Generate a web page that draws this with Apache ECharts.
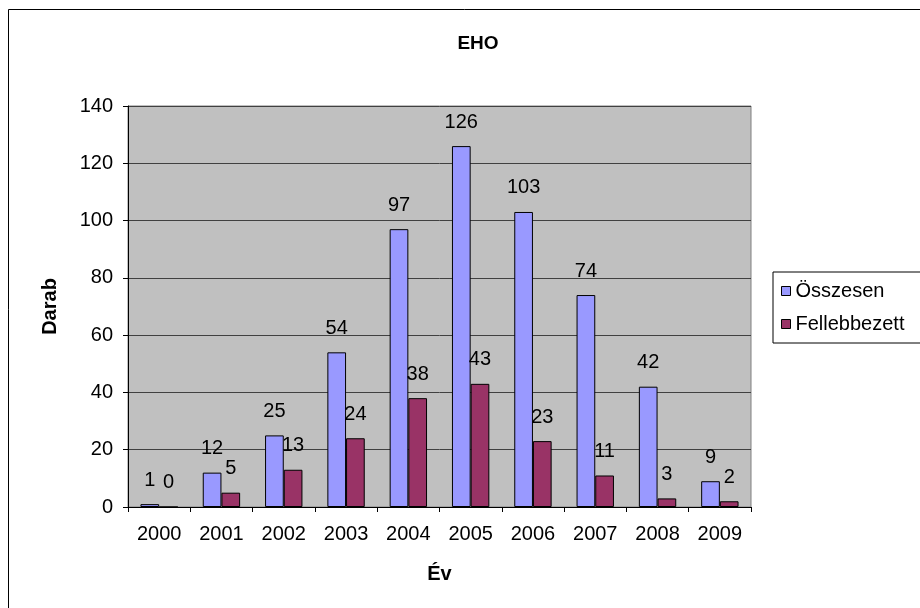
<!DOCTYPE html>
<html>
<head>
<meta charset="utf-8">
<script src="https://cdn.jsdelivr.net/npm/echarts@6/dist/echarts.min.js"></script>
<style>html,body{margin:0;padding:0;background:#fff}#c{width:920px;height:608px}</style>
</head>
<body>
<div id="c"></div>
<script>
var categories = ['2000','2001','2002','2003','2004','2005','2006','2007','2008','2009'];
var osszesen = [1,12,25,54,97,126,103,74,42,9];
var fellebbezett = [0,5,13,24,38,43,23,11,3,2];
var seriesNames = ['Összesen','Fellebbezett'];
var FONT = "'Liberation Sans', Arial, sans-serif";
var FS = 20;

var chart = echarts.init(document.getElementById('c'), null, {renderer:'canvas'});
var labelCfg = {show:true, position:'top', distance:14, fontSize:FS, color:'#000', fontFamily:FONT};
chart.setOption({
  animation:false,
  backgroundColor:'#fff',
  textStyle:{fontFamily:FONT},
  title:{text:'EHO', left:473, top:29, textAlign:'center',
    textStyle:{fontSize:19, fontWeight:'bold', color:'#000', fontFamily:FONT}},
  graphic:[{type:'rect', shape:{x:8.5,y:9.5,width:1000,height:1000},
    style:{fill:null, stroke:'#000', lineWidth:1}, silent:true, z:-1}],
  legend:{orient:'vertical', left:773, top:272, backgroundColor:'#fff',
    borderColor:'#000', borderWidth:1, padding:[9,30,9,8],
    itemWidth:9, itemHeight:9, itemGap:13, icon:'rect',
    itemStyle:{borderColor:'#000', borderWidth:1},
    textStyle:{fontSize:FS, color:'#000', fontFamily:FONT},
    data:seriesNames},
  grid:{left:128, right:169, top:106, bottom:101, show:true,
    backgroundColor:'#c0c0c0', borderColor:'#808080', borderWidth:1},
  xAxis:{type:'category', data:categories,
    name:'Év', nameLocation:'middle', nameGap:57,
    nameTextStyle:{fontSize:FS, fontWeight:'bold', color:'#000', fontFamily:FONT},
    axisLine:{lineStyle:{color:'#000', width:1}},
    axisTick:{show:true, length:5, lineStyle:{color:'#000'}},
    axisLabel:{fontSize:FS, color:'#000', margin:17, fontFamily:FONT},
    splitLine:{show:false}},
  yAxis:{type:'value', min:0, max:140, interval:20,
    name:'Darab', nameLocation:'middle', nameGap:68, nameRotate:90,
    nameTextStyle:{fontSize:FS, fontWeight:'bold', color:'#000', fontFamily:FONT},
    axisLine:{show:true, lineStyle:{color:'#000', width:1}},
    axisTick:{show:true, length:5, lineStyle:{color:'#000'}},
    axisLabel:{fontSize:FS, color:'#000', margin:15, fontFamily:FONT},
    splitLine:{show:true, lineStyle:{color:'#404040', width:1}}},
  series:[
    {name:seriesNames[0], type:'bar', data:osszesen, barGap:'0%', barCategoryGap:'40%',
      itemStyle:{color:'#9999ff', borderColor:'#000', borderWidth:1}, label:labelCfg},
    {name:seriesNames[1], type:'bar', data:fellebbezett, barGap:'0%', barCategoryGap:'40%',
      itemStyle:{color:'#993366', borderColor:'#000', borderWidth:1}, label:labelCfg}
  ]
});
</script>
</body>
</html>
